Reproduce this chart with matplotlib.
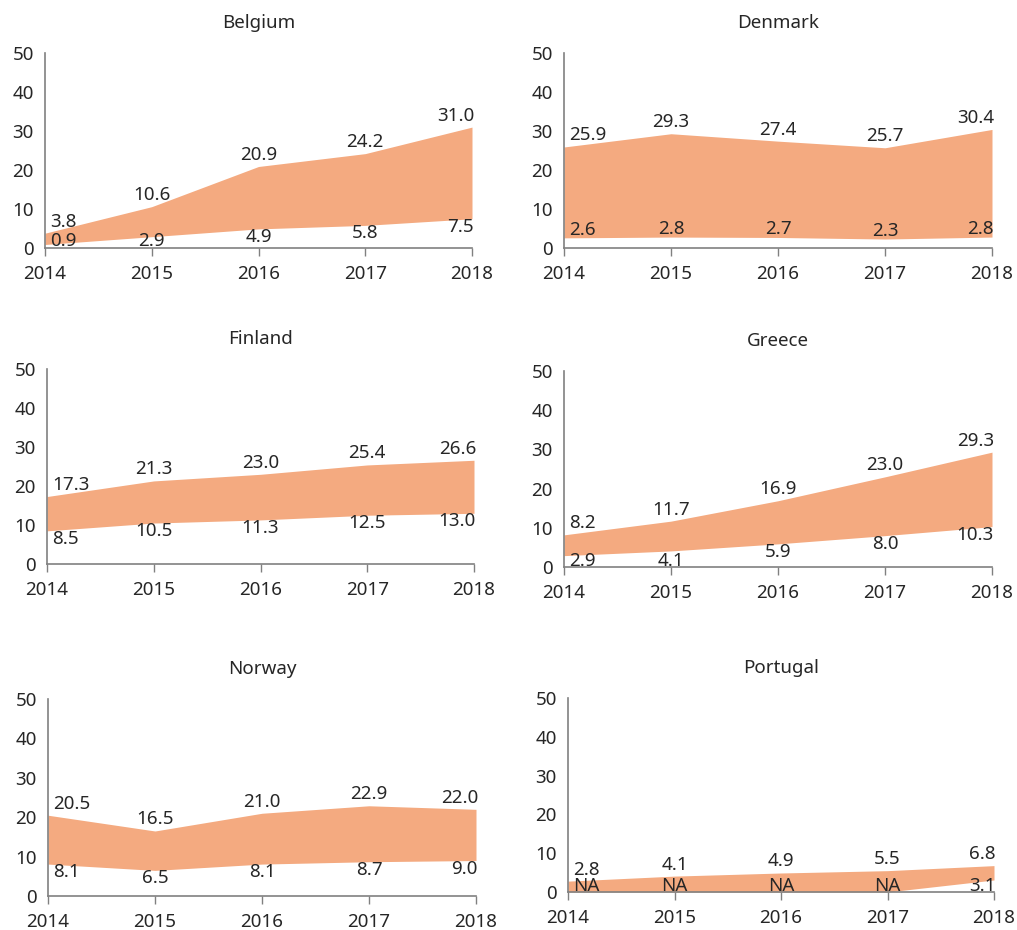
import numpy as np
import matplotlib
matplotlib.use("Agg")
import matplotlib.pyplot as plt

plt.rcParams["font.family"] = ["Noto Sans", "DejaVu Sans"]

years = [2014, 2015, 2016, 2017, 2018]
countries = ["Belgium", "Denmark", "Finland", "Greece", "Norway", "Portugal"]

belgium_low = [0.9, 2.9, 4.9, 5.8, 7.5]
belgium_high = [3.8, 10.6, 20.9, 24.2, 31.0]
denmark_low = [2.6, 2.8, 2.7, 2.3, 2.8]
denmark_high = [25.9, 29.3, 27.4, 25.7, 30.4]
finland_low = [8.5, 10.5, 11.3, 12.5, 13.0]
finland_high = [17.3, 21.3, 23.0, 25.4, 26.6]
greece_low = [2.9, 4.1, 5.9, 8.0, 10.3]
greece_high = [8.2, 11.7, 16.9, 23.0, 29.3]
norway_low = [8.1, 6.5, 8.1, 8.7, 9.0]
norway_high = [20.5, 16.5, 21.0, 22.9, 22.0]
portugal_low = [None, None, None, None, 3.1]
portugal_high = [2.8, 4.1, 4.9, 5.5, 6.8]

lows = [belgium_low, denmark_low, finland_low, greece_low, norway_low, portugal_low]
highs = [belgium_high, denmark_high, finland_high, greece_high, norway_high, portugal_high]

W, H = 1017, 930
# panel boxes in pixels: left, right, top (y=50), bottom (y=0)
boxes = [
    (45, 472, 53, 248),
    (564, 992, 53, 248),
    (47, 474, 369, 564),
    (564, 992, 371, 567),
    (48, 476, 699, 896),
    (568, 994, 698, 892),
]
# Denmark's lower labels sit inside the band
low_inside = {"Denmark"}

FILL = "#F4AA80"
TXT = "#262626"
SPINE = "#808080"
FS = 13.5
PT = 72 / 100  # points per pixel

fig = plt.figure(figsize=(W / 100, H / 100), dpi=100)

for name, lo, hi, (x0, x1, yt, yb) in zip(countries, lows, highs, boxes):
    ax = fig.add_axes([x0 / W, 1 - yb / H, (x1 - x0) / W, (yb - yt) / H])
    lo_vals = np.array([0.0 if v is None else v for v in lo])
    hi_vals = np.array(hi, dtype=float)
    ax.fill_between(years, lo_vals, hi_vals, color=FILL, lw=0)

    ax.set_xlim(2014, 2018)
    ax.set_ylim(0, 50)
    ax.set_yticks([0, 10, 20, 30, 40, 50])
    ax.set_xticks(years)
    ax.tick_params(axis="y", length=0, pad=8, labelsize=FS, labelcolor=TXT)
    ax.tick_params(axis="x", length=6, width=1, color=SPINE, pad=6,
                   labelsize=FS, labelcolor=TXT)
    for s in ("top", "right"):
        ax.spines[s].set_visible(False)
    for s in ("left", "bottom"):
        ax.spines[s].set_color(SPINE)
        ax.spines[s].set_linewidth(1.2)
    ax.set_title(name, fontsize=FS, color=TXT, pad=18)

    px_per_unit = (yb - yt) / 50
    for i, yr in enumerate(years):
        if i == 0:
            ha, dx = "left", 5
        elif i == len(years) - 1:
            ha, dx = "right", 2
        else:
            ha, dx = "center", 0
        ax.annotate(f"{hi_vals[i]:.1f}", (yr, hi_vals[i]), xytext=(dx * PT, 2.5 * PT),
                    textcoords="offset points", ha=ha, va="bottom",
                    fontsize=FS, color=TXT, annotation_clip=False)

        lab = "NA" if lo[i] is None else f"{lo[i]:.1f}"
        if name in low_inside:
            ax.annotate(lab, (yr, lo_vals[i]), xytext=(dx * PT, -1 * PT),
                        textcoords="offset points", ha=ha, va="bottom",
                        fontsize=FS, color=TXT, annotation_clip=False)
        elif lo_vals[i] * px_per_unit < 17:
            # too close to the axis: rest the label on it
            ax.annotate(lab, (yr, 0), xytext=(dx * PT, -2.5 * PT),
                        textcoords="offset points", ha=ha, va="bottom",
                        fontsize=FS, color=TXT, annotation_clip=False)
        else:
            ax.annotate(lab, (yr, lo_vals[i]), xytext=(dx * PT, 1 * PT),
                        textcoords="offset points", ha=ha, va="top",
                        fontsize=FS, color=TXT, annotation_clip=False)

fig.savefig("out.png", dpi=100)
